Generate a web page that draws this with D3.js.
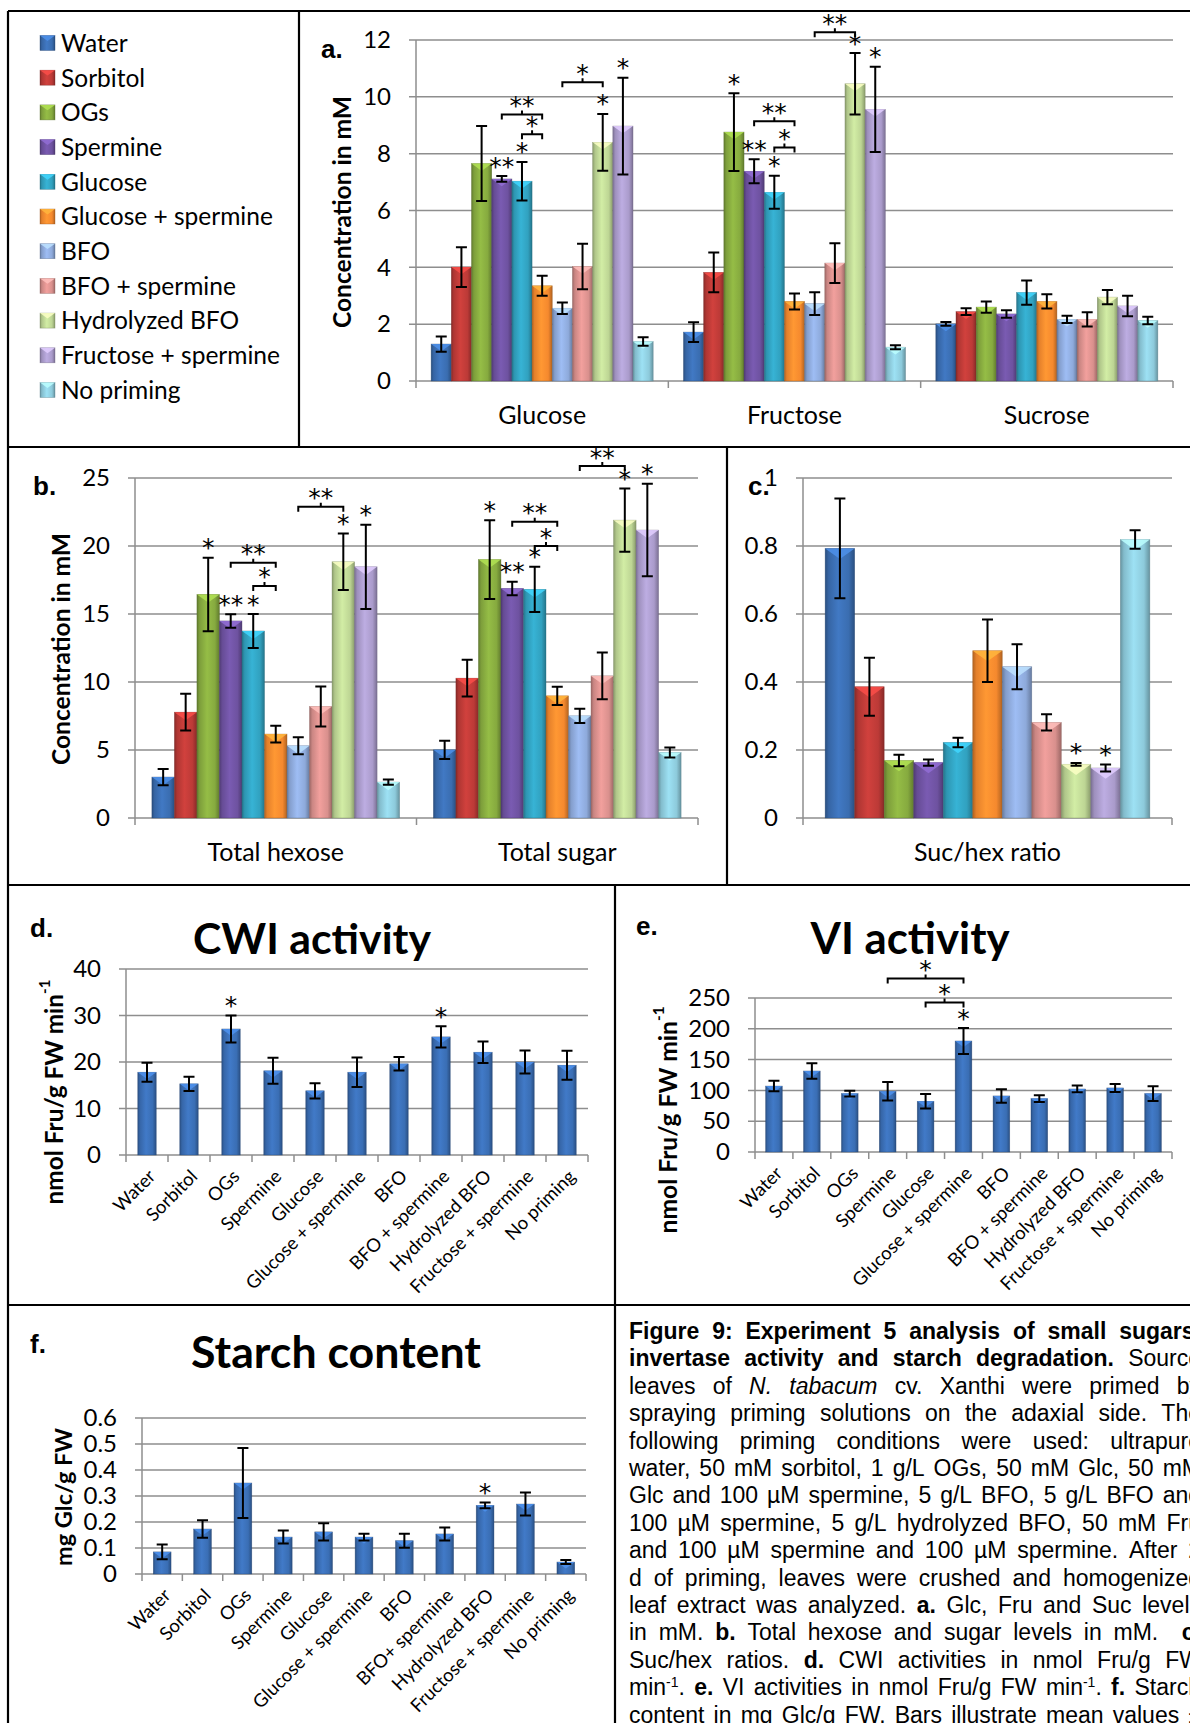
<!DOCTYPE html>
<html lang="en">
<head>
<meta charset="utf-8">
<title>Figure 9 – sugars, invertase activity and starch</title>
<script src="https://cdn.jsdelivr.net/npm/d3@7/dist/d3.min.js"></script>
<style>
  html, body { margin: 0; padding: 0; background: #fff; }
  svg { display: block; }
</style>
</head>
<body>
<svg id="fig" width="1190" height="1723" viewBox="0 0 1190 1723"></svg>
<script>
// ---------------- data ----------------
const treatments = ["Water", "Sorbitol", "OGs", "Spermine", "Glucose", "Glucose + spermine",
  "BFO", "BFO + spermine", "Hydrolyzed BFO", "Fructose + spermine", "No priming"];
const starchLabels = ["Water", "Sorbitol", "OGs", "Spermine", "Glucose", "Glucose + spermine",
  "BFO", "BFO+ spermine", "Hydrolyzed BFO", "Fructose + spermine", "No priming"];
const treatmentColors = ["#3A6DB0", "#BC3A37", "#86AA3F", "#6E52A0", "#31A1BF", "#F5892E",
  "#8EAADB", "#D9908D", "#BDD594", "#AA9BCB", "#8DCADB"];
const singleColor = "#3A6EB4";

// a. glucose, fructose, sucrose (mM)
const sugarCategories = ["Glucose", "Fructose", "Sucrose"];
const glucoseMean  = [1.30, 4.01, 7.65, 7.11, 7.03, 3.35, 2.56, 4.03, 8.40, 8.97, 1.39];
const glucoseErr   = [0.27, 0.70, 1.32, 0.10, 0.68, 0.35, 0.20, 0.80, 1.00, 1.70, 0.15];
const fructoseMean = [1.72, 3.82, 8.76, 7.38, 6.64, 2.80, 2.72, 4.15, 10.46, 9.56, 1.19];
const fructoseErr  = [0.35, 0.70, 1.37, 0.42, 0.58, 0.28, 0.40, 0.70, 1.08, 1.50, 0.07];
const sucroseMean  = [2.01, 2.44, 2.60, 2.36, 3.11, 2.80, 2.17, 2.17, 2.95, 2.64, 2.13];
const sucroseErr   = [0.07, 0.12, 0.20, 0.13, 0.43, 0.25, 0.13, 0.25, 0.25, 0.36, 0.13];

// b. total hexose, total sugar (mM)
const totalCategories = ["Total hexose", "Total sugar"];
const hexoseMean = [3.01, 7.78, 16.44, 14.49, 13.75, 6.17, 5.31, 8.20, 18.84, 18.47, 2.64];
const hexoseErr  = [0.60, 1.35, 2.70, 0.50, 1.25, 0.62, 0.63, 1.47, 2.08, 3.10, 0.20];
const sugarMean  = [5.01, 10.28, 19.00, 16.88, 16.81, 8.98, 7.51, 10.45, 21.90, 21.17, 4.82];
const sugarErr   = [0.67, 1.35, 2.90, 0.50, 1.67, 0.67, 0.53, 1.72, 2.33, 3.40, 0.37];

// c. sucrose / hexose ratio
const ratioCategories = ["Suc/hex ratio"];
const ratioMean = [0.793, 0.386, 0.169, 0.163, 0.222, 0.492, 0.445, 0.281, 0.158, 0.147, 0.819];
const ratioErr  = [0.147, 0.085, 0.017, 0.009, 0.014, 0.092, 0.066, 0.024, 0.004, 0.010, 0.027];

// d. cell wall invertase (nmol Fru/g FW min-1)
const cwiMean = [17.8, 15.3, 27.1, 18.1, 13.8, 17.8, 19.6, 25.4, 22.1, 20.0, 19.3];
const cwiErr  = [2.05, 1.55, 2.90, 2.80, 1.65, 3.15, 1.45, 2.30, 2.30, 2.45, 3.10];

// e. vacuolar invertase (nmol Fru/g FW min-1)
const viMean = [107, 131.5, 94.8, 98.5, 82.3, 180.2, 91, 86.7, 102.3, 104, 94.8];
const viErr  = [8.5, 12.5, 4.5, 15, 11.7, 21, 11, 5.5, 5.5, 6.5, 12];

// f. starch (mg Glc/g FW)
const starchMean = [0.085, 0.173, 0.350, 0.142, 0.162, 0.142, 0.128, 0.154, 0.264, 0.269, 0.046];
const starchErr  = [0.028, 0.034, 0.135, 0.025, 0.033, 0.013, 0.027, 0.025, 0.011, 0.044, 0.008];

// significance marks: [category, treatment index, label]; brackets: [category, from, to, level, label]
const starsA = [["Glucose", 3, "**"], ["Glucose", 4, "*"], ["Glucose", 8, "*"], ["Glucose", 9, "*"],
  ["Fructose", 2, "*"], ["Fructose", 3, "**"], ["Fructose", 4, "*"], ["Fructose", 8, "*"], ["Fructose", 9, "*"]];
const bracketsA = [["Glucose", 4, 5, 8.68, "*"], ["Glucose", 3, 5, 9.38, "**"], ["Glucose", 6, 8, 10.51, "*"],
  ["Fructose", 4, 5, 8.22, "*"], ["Fructose", 3, 5, 9.14, "**"], ["Fructose", 6, 8, 12.27, "**"]];
const starsB = [["Total hexose", 2, "*"], ["Total hexose", 3, "**"], ["Total hexose", 4, "*"], ["Total hexose", 8, "*"], ["Total hexose", 9, "*"],
  ["Total sugar", 2, "*"], ["Total sugar", 3, "**"], ["Total sugar", 4, "*"], ["Total sugar", 8, "*"], ["Total sugar", 9, "*"]];
const bracketsB = [["Total hexose", 4, 5, 17.06, "*"], ["Total hexose", 3, 5, 18.77, "**"], ["Total hexose", 6, 8, 22.89, "**"],
  ["Total sugar", 4, 5, 20.0, "*"], ["Total sugar", 3, 5, 21.79, "**"], ["Total sugar", 6, 8, 25.88, "**"]];
const starsC = [["Suc/hex ratio", 8, "*"], ["Suc/hex ratio", 9, "*"]];
const starsD = [[null, 2, "*"], [null, 7, "*"]];
const starsE = [[null, 5, "*"]];
const bracketsE = [[null, 4, 5, 242.5, "*"], [null, 3, 5, 281.5, "*"]];
const starsF = [[null, 8, "*"]];

// caption: each line is a list of [text, style] runs (b = bold, i = italic, sup = superscript)
const captionLines = [
  [["Figure 9: Experiment 5 analysis of small sugars,", "b"]],
  [["invertase activity and starch degradation.", "b"], [" Source", ""]],
  [["leaves of ", ""], ["N. tabacum", "i"], [" cv. Xanthi were primed by", ""]],
  [["spraying priming solutions on the adaxial side. The", ""]],
  [["following priming conditions were used: ultrapure", ""]],
  [["water, 50 mM sorbitol, 1 g/L OGs, 50 mM Glc, 50 mM", ""]],
  [["Glc and 100 µM spermine, 5 g/L BFO, 5 g/L BFO and", ""]],
  [["100 µM spermine, 5 g/L hydrolyzed BFO, 50 mM Fru", ""]],
  [["and 100 µM spermine and 100 µM spermine. After 2", ""]],
  [["d of priming, leaves were crushed and homogenized", ""]],
  [["leaf extract was analyzed. ", ""], ["a.", "b"], [" Glc, Fru and Suc levels", ""]],
  [["in mM. ", ""], ["b.", "b"], [" Total hexose and sugar levels in mM.  ", ""], ["c.", "b"]],
  [["Suc/hex ratios. ", ""], ["d.", "b"], [" CWI activities in nmol Fru/g FW", ""]],
  [["min", ""], ["-1", "sup"], [". ", ""], ["e.", "b"], [" VI activities in nmol Fru/g FW min", ""], ["-1", "sup"], [". ", ""], ["f.", "b"], [" Starch", ""]],
  [["content in mg Glc/g FW. Bars illustrate mean values ±", ""]]
];

// ---------------- drawing ----------------
const svg = d3.select("#fig");
const defs = svg.append("defs");
const CHART_FONT = "Lato, 'Open Sans', 'DejaVu Sans', sans-serif";
const STAR_FONT = "'DejaVu Sans', Lato, sans-serif";
const DOC_FONT = "'Liberation Sans', Arial, Helvetica, sans-serif";
const GRID = "#8e8e8e";
const STAR_FS = 25;
const fmtNum = d => String(+d.toFixed(2));

svg.append("rect").attr("width", 1190).attr("height", 1723).attr("fill", "#fff");

// bevelled column fill: dark edges, lighter centre
function bevel(color) {
  const id = "bev" + color.slice(1);
  if (defs.select("#" + id).empty()) {
    const c = d3.color(color);
    const lg = defs.append("linearGradient").attr("id", id)
      .attr("x1", 0).attr("x2", 1).attr("y1", 0).attr("y2", 0);
    [[0, c.darker(0.9)], [0.12, c.darker(0.2)], [0.45, c.brighter(0.3)], [0.8, c], [1, c.darker(0.9)]]
      .forEach(([o, col]) => lg.append("stop").attr("offset", o).attr("stop-color", col.formatHex()));
  }
  return "url(#" + id + ")";
}

function drawBar(g, x, yTop, w, h, color) {
  g.append("rect").attr("x", x).attr("y", yTop).attr("width", w).attr("height", h)
    .attr("fill", bevel(color))
    .attr("stroke", d3.color(color).darker(1.3).formatHex()).attr("stroke-width", 0.6).attr("stroke-opacity", 0.6);
  const t = Math.min(w * 0.36, h);
  g.append("path").attr("d", `M${x},${yTop}L${x + w},${yTop}L${x + w / 2},${yTop + t}Z`)
    .attr("fill", d3.color(color).brighter(0.8).formatHex()).attr("opacity", 0.85);
}

function errBar(g, cx, yHi, yLo) {
  const c = 5.5;
  g.append("path")
    .attr("d", `M${cx},${yHi}V${yLo}M${cx - c},${yHi}H${cx + c}M${cx - c},${yLo}H${cx + c}`)
    .attr("stroke", "#000").attr("stroke-width", 2).attr("fill", "none");
}

function star(g, x, yCenter, label) {
  g.append("text").attr("x", x).attr("y", yCenter + STAR_FS * 0.58)
    .attr("text-anchor", "middle").attr("font-family", STAR_FONT).attr("font-size", STAR_FS)
    .attr("fill", "#000").text(label);
}

function bracket(g, xa, xb, yb, label) {
  const xm = (xa + xb) / 2;
  g.append("path").attr("d", `M${xa},${yb + 5}V${yb}H${xb}V${yb + 5}M${xm},${yb}V${yb - 4}`)
    .attr("stroke", "#000").attr("stroke-width", 2).attr("fill", "none");
  star(g, xm, yb - 15, label);
}

function fitTo(sel, target) {
  const fs = parseFloat(sel.attr("font-size"));
  const w = sel.node().getComputedTextLength();
  if (w > 0) sel.attr("font-size", (fs * target / w).toFixed(2));
}

function drawPanel(p) {
  const g = svg.append("g");
  const y = d3.scaleLinear().domain([0, p.max]).range([p.y0, p.yTop]);
  const ticks = d3.range(0, p.max + p.step / 2, p.step);

  // gridlines (with small outside ticks)
  g.append("g").selectAll("line").data(ticks).join("line")
    .attr("x1", p.x0 - 7).attr("x2", p.x1).attr("y1", d => y(d)).attr("y2", d => y(d))
    .attr("stroke", GRID).attr("stroke-width", 1.5);
  g.append("line").attr("x1", p.x0).attr("x2", p.x0).attr("y1", y(p.max)).attr("y2", p.y0)
    .attr("stroke", GRID).attr("stroke-width", 1.5);

  // value axis labels
  const ag = g.append("g").attr("transform", `translate(${p.x0},0)`)
    .call(d3.axisLeft(y).tickValues(ticks).tickSize(0).tickPadding(25).tickFormat(fmtNum));
  ag.select(".domain").remove();
  ag.attr("font-family", null).attr("font-size", null);
  ag.selectAll("text").attr("font-family", CHART_FONT).attr("font-size", p.tickFs).attr("fill", "#000");

  // category scale
  const xc = d3.scaleBand().domain(p.cats).range([p.x0, p.x1]);
  let xs = null;
  if (p.grouped) {
    xs = d3.scaleBand().domain(d3.range(treatments.length)).range([0, xc.bandwidth()])
      .paddingInner(0).paddingOuter(0.75);
  } else {
    xc.paddingInner(0.56).paddingOuter(0.28);
  }
  const bounds = d3.range(p.cats.length + 1).map(k => p.x0 + k * xc.step());
  g.append("g").selectAll("line").data(bounds).join("line")
    .attr("x1", d => d).attr("x2", d => d).attr("y1", p.y0).attr("y2", p.y0 + 7)
    .attr("stroke", GRID).attr("stroke-width", 1.5);

  // bars
  const bars = [];
  if (p.grouped) {
    p.cats.forEach((c, ci) => p.means[ci].forEach((m, si) => bars.push({
      cat: c, s: si, m, e: p.errs[ci][si], x: xc(c) + xs(si), w: xs.bandwidth(), color: treatmentColors[si]
    })));
  } else {
    p.cats.forEach((c, ci) => bars.push({
      cat: c, s: ci, m: p.means[ci], e: p.errs[ci], x: xc(c), w: xc.bandwidth(), color: singleColor
    }));
  }
  const bg = g.append("g");
  bars.forEach(b => drawBar(bg, b.x, y(b.m), b.w, p.y0 - y(b.m), b.color));
  bars.forEach(b => errBar(bg, b.x + b.w / 2, y(b.m + b.e), y(b.m - b.e)));

  // significance
  const find = (cat, s) => bars.find(b => (cat == null || b.cat === cat) && b.s === s);
  const cx = b => b.x + b.w / 2;
  (p.stars || []).forEach(([cat, s, lab]) => {
    const b = find(cat, s);
    star(g, cx(b), y(b.m + b.e) - 16, lab);
  });
  (p.brackets || []).forEach(([cat, s0, s1, lvl, lab]) => {
    bracket(g, cx(find(cat, s0)), cx(find(cat, s1)), y(lvl), lab);
  });

  // category labels
  if (p.grouped) {
    g.append("g").selectAll("text").data(p.cats).join("text")
      .attr("x", c => xc(c) + xc.bandwidth() / 2).attr("y", p.y0 + 43)
      .attr("text-anchor", "middle").attr("font-family", CHART_FONT).attr("font-size", p.catFs)
      .attr("fill", "#000").text(c => c);
  } else {
    const lg = g.append("g");
    p.cats.forEach((c, i) => {
      lg.append("text")
        .attr("transform", `translate(${xc(c) + xc.bandwidth() / 2 + 5},${p.y0 + 18}) rotate(-45)`)
        .attr("text-anchor", "end").attr("dy", "0.35em")
        .attr("font-family", CHART_FONT).attr("font-size", p.catFs).attr("fill", "#000")
        .text(p.catLabels[i]);
    });
  }

  // value-axis title
  if (p.yTitle) {
    const t = g.append("text")
      .attr("transform", `translate(${p.yTitle.x},${p.yTitle.y}) rotate(-90)`)
      .attr("text-anchor", "middle").attr("dominant-baseline", "central")
      .attr("font-family", CHART_FONT).attr("font-weight", 700).attr("font-size", 24).attr("fill", "#000");
    t.append("tspan").text(p.yTitle.text);
    if (p.yTitle.sup) t.append("tspan").attr("font-size", "0.62em").attr("dy", "-0.6em").text(p.yTitle.sup);
    fitTo(t, p.yTitle.len);
  }

  // chart title
  if (p.title) {
    const t = g.append("text").attr("x", p.title.x).attr("y", p.title.y).attr("text-anchor", "middle")
      .attr("font-family", CHART_FONT).attr("font-weight", 700).attr("font-size", 44).attr("fill", "#000")
      .text(p.title.text);
    fitTo(t, p.title.len);
  }

  // panel letter
  g.append("text").attr("x", p.letter.x).attr("y", p.letter.y)
    .attr("font-family", DOC_FONT).attr("font-weight", 700).attr("font-size", 26).attr("fill", "#000")
    .text(p.letter.text);
}

drawPanel({
  x0: 416, x1: 1173, y0: 381, yTop: 40, max: 12, step: 2, tickFs: 24, catFs: 25,
  cats: sugarCategories, grouped: true,
  means: [glucoseMean, fructoseMean, sucroseMean], errs: [glucoseErr, fructoseErr, sucroseErr],
  stars: starsA, brackets: bracketsA,
  yTitle: { text: "Concentration in mM", x: 341, y: 212, len: 232 },
  letter: { text: "a.", x: 321, y: 58 }
});

drawPanel({
  x0: 135, x1: 698, y0: 818, yTop: 478, max: 25, step: 5, tickFs: 24, catFs: 25,
  cats: totalCategories, grouped: true,
  means: [hexoseMean, sugarMean], errs: [hexoseErr, sugarErr],
  stars: starsB, brackets: bracketsB,
  yTitle: { text: "Concentration in mM", x: 60, y: 649, len: 232 },
  letter: { text: "b.", x: 33, y: 495 }
});

drawPanel({
  x0: 803, x1: 1172, y0: 818, yTop: 478, max: 1, step: 0.2, tickFs: 24, catFs: 25,
  cats: ratioCategories, grouped: true,
  means: [ratioMean], errs: [ratioErr],
  stars: starsC,
  letter: { text: "c.", x: 748, y: 495 }
});

drawPanel({
  x0: 126, x1: 588, y0: 1155, yTop: 969, max: 40, step: 10, tickFs: 24, catFs: 18.5,
  cats: treatments, catLabels: treatments, grouped: false,
  means: cwiMean, errs: cwiErr, stars: starsD,
  yTitle: { text: "nmol Fru/g FW min", sup: "-1", x: 53, y: 1092, len: 225 },
  title: { text: "CWI activity", x: 312, y: 954, len: 238 },
  letter: { text: "d.", x: 30, y: 937 }
});

drawPanel({
  x0: 755, x1: 1172, y0: 1152, yTop: 998, max: 250, step: 50, tickFs: 24, catFs: 18.5,
  cats: treatments, catLabels: treatments, grouped: false,
  means: viMean, errs: viErr, stars: starsE, brackets: bracketsE,
  yTitle: { text: "nmol Fru/g FW min", sup: "-1", x: 667, y: 1120, len: 227 },
  title: { text: "VI activity", x: 910, y: 954, len: 199 },
  letter: { text: "e.", x: 636, y: 935 }
});

drawPanel({
  x0: 142, x1: 586, y0: 1574, yTop: 1418, max: 0.6, step: 0.1, tickFs: 24, catFs: 18.5,
  cats: treatments, catLabels: starchLabels, grouped: false,
  means: starchMean, errs: starchErr, stars: starsF,
  yTitle: { text: "mg Glc/g FW", x: 63, y: 1497, len: 138 },
  title: { text: "Starch content", x: 336, y: 1368, len: 290 },
  letter: { text: "f.", x: 30, y: 1353 }
});

// ---------------- legend ----------------
const legend = svg.append("g");
const legendTexts = [];
treatments.forEach((t, i) => {
  const cy = 43 + 34.7 * i;
  drawBar(legend, 40, cy - 7.5, 15, 15, treatmentColors[i]);
  legendTexts.push(legend.append("text").attr("x", 61).attr("y", cy + 0.36 * 24)
    .attr("font-family", CHART_FONT).attr("font-size", 24).attr("fill", "#000").text(t));
});
{
  const ref = legendTexts[9];
  fitTo(ref, 219);
  const fs = ref.attr("font-size");
  legendTexts.forEach((t, i) => {
    const cy = 43 + 34.7 * i;
    t.attr("font-size", fs).attr("y", cy + 0.36 * fs);
  });
}

// ---------------- caption (justified column) ----------------
{
  const L = 629, R = 1201, top = 1339, lead = 27.4, fs = 23;
  const cap = svg.append("g").attr("font-family", DOC_FONT).attr("font-size", fs).attr("fill", "#000");
  captionLines.forEach((runs, li) => {
    const words = [[]];
    runs.forEach(([txt, st]) => {
      txt.split(" ").forEach((piece, k) => {
        if (k > 0) words.push([]);
        if (piece) words[words.length - 1].push({ t: piece, st });
      });
    });
    const nodes = words.map(w => {
      const t = cap.append("text").attr("y", top + li * lead);
      let raised = false;
      w.forEach(part => {
        const ts = t.append("tspan").text(part.t);
        if (part.st === "b") ts.attr("font-weight", 700);
        if (part.st === "i") ts.attr("font-style", "italic");
        if (part.st === "sup") { ts.attr("font-size", 14).attr("dy", -8); raised = true; }
        else if (raised) { ts.attr("dy", 8); raised = false; }
      });
      return t;
    });
    const widths = nodes.map(n => (n.node().textContent ? n.node().getComputedTextLength() : 0));
    const total = d3.sum(widths);
    const gap = (R - L - total) / Math.max(1, nodes.length - 1);
    let x = L;
    nodes.forEach((n, i) => { n.attr("x", x); x += widths[i] + gap; });
  });
}

// ---------------- table frame ----------------
{
  const fr = svg.append("g").attr("stroke", "#000").attr("stroke-width", 2.2);
  [[8, 11, 1190, 11], [8, 447, 1190, 447], [8, 885, 1190, 885], [8, 1305, 1190, 1305],
   [8, 11, 8, 1723], [299, 11, 299, 447], [727, 447, 727, 885], [615, 885, 615, 1723]]
    .forEach(([x1, y1, x2, y2]) => fr.append("line").attr("x1", x1).attr("y1", y1).attr("x2", x2).attr("y2", y2));
}
</script>
</body>
</html>
